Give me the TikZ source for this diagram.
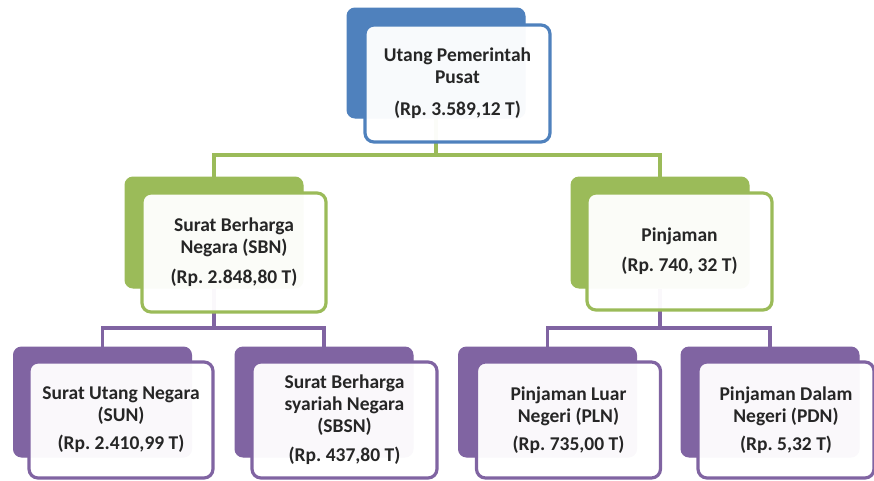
\documentclass[tikz,border=0pt]{standalone}
\usepackage{fontspec}
\setmainfont{Carlito}
\usetikzlibrary{backgrounds}
\definecolor{cblue}{HTML}{4F81BD}
\definecolor{cgreen}{HTML}{9BBB59}
\definecolor{cpurple}{HTML}{8064A2}
\definecolor{ctext}{HTML}{262626}
\frenchspacing
\begin{document}
\begin{tikzpicture}[x=1pt,y=-1pt,
 backbox/.style={rectangle, rounded corners=8pt, fill=#1, draw=#1, line width=1pt, minimum width=178pt, minimum height=110pt, inner sep=0pt},
 frontbox/.style={rectangle, rounded corners=9pt, draw=#1, line width=3.2pt, fill=white, fill opacity=0.96, text opacity=1, minimum width=184pt, minimum height=117pt, inner sep=0pt, align=center, font=\frenchspacing\bfseries\fontsize{19.5}{22}\selectfont, text=ctext},
 conn/.style={draw=#1, line width=3.5pt}]
\useasboundingbox (0,0) rectangle (874,480);
% level 0
\node[backbox=cblue] (topback) at (436,63) {};
\node[frontbox=cblue, minimum width=185pt] (top) at (457.5,83.5) {Utang Pemerintah\\Pusat\\[10pt](Rp. 3.589,12 T)};
% level 1
\node[backbox=cgreen, minimum height=111pt] (sbnback) at (214,232.5) {};
\node[frontbox=cgreen, minimum height=119pt] (sbn) at (234,252.5) {Surat Berharga\\Negara (SBN)\\[8pt](Rp. 2.848,80 T)};
\node[backbox=cgreen, minimum height=111pt] (pinback) at (660,232.5) {};
\node[frontbox=cgreen, minimum width=185pt] (pin) at (679.5,251.5) {Pinjaman\\[8pt](Rp. 740, 32 T)};
% level 2
\node[backbox=cpurple] (sunback) at (102.5,402) {};
\node[frontbox=cpurple, minimum height=116pt] (sun) at (121,420) {Surat Utang Negara\\(SUN)\\[6pt](Rp. 2.410,99 T)};
\node[backbox=cpurple] (sbsnback) at (324,402) {};
\node[frontbox=cpurple, minimum width=185pt, minimum height=116pt] (sbsn) at (344.5,420) {Surat Berharga\\syariah Negara\\(SBSN)\\[7pt](Rp. 437,80 T)};
\node[backbox=cpurple] (plnback) at (547.5,402) {};
\node[frontbox=cpurple, minimum height=116pt] (pln) at (568.5,420) {Pinjaman Luar\\Negeri (PLN)\\[6pt](Rp. 735,00 T)};
\node[backbox=cpurple] (pdnback) at (770,402) {};
\node[frontbox=cpurple, minimum width=176pt, minimum height=116pt] (pdn) at (786,420) {Pinjaman Dalam\\Negeri (PDN)\\[6pt](Rp. 5,32 T)};
% bars
\coordinate (gbar) at (0,155);
\coordinate (pbar) at (0,328);
\begin{scope}[on background layer]
\draw[conn=cgreen] (topback.south) -- (topback.south |- gbar);
\draw[conn=cgreen] (sbnback.north) |- (topback.south |- gbar) -| (pinback.north);
\draw[conn=cpurple] (sbnback.south) -- (sbnback.south |- pbar);
\draw[conn=cpurple] (sunback.north) |- (sbnback.south |- pbar) -| (sbsnback.north);
\draw[conn=cpurple] (pinback.south) -- (pinback.south |- pbar);
\draw[conn=cpurple] (plnback.north) |- (pinback.south |- pbar) -| (pdnback.north);
\end{scope}
\end{tikzpicture}
\end{document}
